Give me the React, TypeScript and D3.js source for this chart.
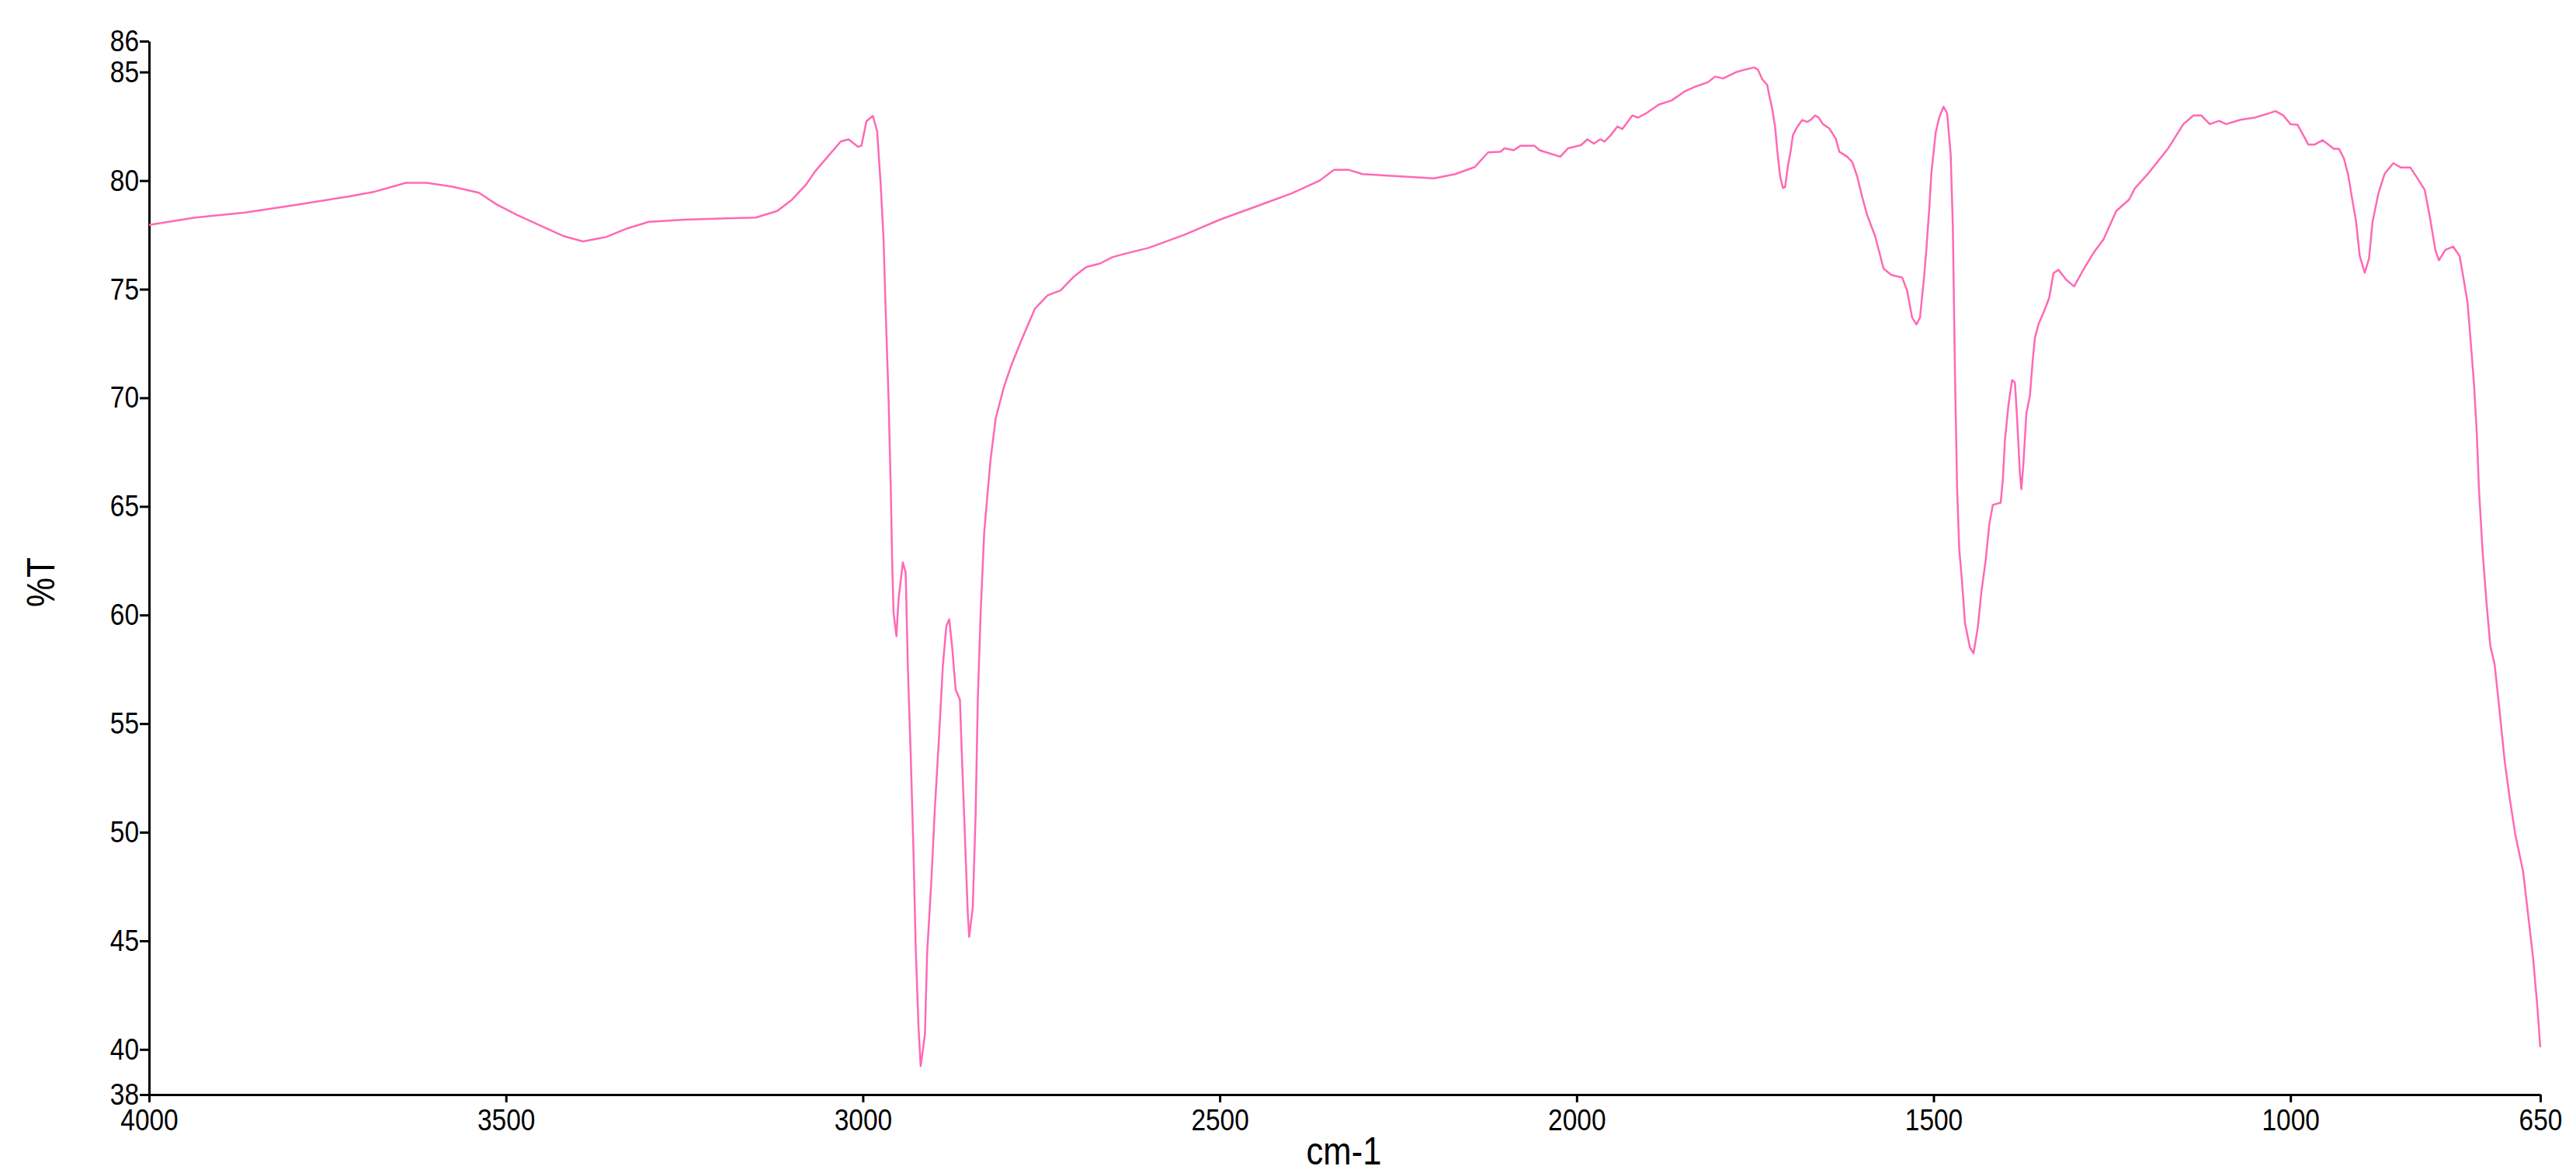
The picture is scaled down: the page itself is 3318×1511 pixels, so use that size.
import React, { useRef, useEffect } from "react";
import * as d3 from "d3";

// wavenumber (cm-1) and transmittance (%T)
const wavenumbers = [
  4000, 3937, 3865, 3793, 3720, 3684, 3640, 3611, 3575, 3538, 3513, 3484, 3450, 3420, 3392, 3360,
  3330, 3300, 3250, 3200, 3150, 3120, 3100, 3080, 3067, 3031, 3020, 3007, 3002, 2995, 2986, 2980,
  2975, 2971, 2968, 2964, 2961, 2959, 2957, 2953, 2950, 2944, 2940, 2937, 2933, 2929, 2926, 2922,
  2919, 2913, 2910, 2904, 2899, 2893, 2888, 2883, 2879, 2875, 2870, 2864, 2861, 2857, 2853, 2851,
  2846, 2842, 2839, 2835, 2830, 2826, 2821, 2814, 2803, 2792, 2777, 2759, 2741, 2723, 2705, 2687,
  2668, 2650, 2632, 2600, 2550, 2500, 2450, 2400, 2360, 2340, 2320, 2300, 2250, 2200, 2170, 2143,
  2124, 2107, 2101, 2088, 2079, 2059, 2052, 2033, 2023, 2012, 1994, 1985, 1976, 1967, 1961, 1952,
  1943, 1936, 1922, 1914, 1903, 1885, 1867, 1849, 1835, 1816, 1806, 1795, 1777, 1764, 1751, 1746,
  1740, 1733, 1730, 1726, 1722, 1719, 1715, 1711, 1708, 1704, 1700, 1697, 1691, 1684, 1677, 1672,
  1666, 1661, 1655, 1646, 1637, 1632, 1621, 1614, 1607, 1600, 1593, 1582, 1570, 1559, 1544, 1537,
  1530, 1524, 1519, 1513, 1510, 1506, 1503, 1497, 1492, 1486, 1481, 1476, 1473, 1470, 1467, 1464,
  1460, 1456, 1449, 1444, 1438, 1433, 1427, 1422, 1417, 1406, 1403, 1400, 1395, 1390, 1386, 1383,
  1379, 1377, 1374, 1370, 1365, 1361, 1358, 1353, 1345, 1338, 1332, 1325, 1314, 1303, 1291, 1276,
  1262, 1244, 1226, 1218, 1200, 1171, 1150, 1136, 1125, 1113, 1100, 1090, 1070, 1050, 1030, 1021,
  1010, 1000, 990, 975, 966, 955, 939, 932, 925, 919, 914, 908, 903, 896, 890, 885,
  877, 868, 856, 845, 832, 823, 812, 805, 797, 792, 783, 772, 763, 757, 752, 747,
  743, 739, 736, 731, 725, 720, 714, 707, 700, 693, 685, 674, 667, 660, 654, 650,
];

const transmittance = [
  77.96, 78.29, 78.53, 78.89, 79.27, 79.49, 79.9, 79.9, 79.72, 79.44, 78.9, 78.41, 77.9, 77.45, 77.2, 77.4,
  77.8, 78.1, 78.2, 78.25, 78.3, 78.6, 79.1, 79.8, 80.42, 81.8, 81.9, 81.56, 81.6, 82.73, 82.98, 82.27,
  79.8, 77.3, 73.97, 69.96, 65.96, 62.57, 60.1, 59.02, 60.72, 62.42, 61.95, 57.64, 53.6, 49.02, 44.72, 41.0,
  39.23, 40.7, 44.4, 47.8, 51.18, 54.56, 57.64, 59.5, 59.8, 58.56, 56.56, 56.1, 53.3, 49.8, 46.26, 45.18,
  46.56, 50.87, 56.1, 60.1, 63.8, 65.34, 67.18, 69.03, 70.43, 71.5, 72.72, 74.1, 74.72, 74.94, 75.56, 76.02,
  76.18, 76.48, 76.64, 76.9, 77.5, 78.2, 78.8, 79.4, 80.0, 80.5, 80.5, 80.3, 80.2, 80.1, 80.3, 80.62,
  81.3, 81.33, 81.49, 81.4, 81.6, 81.6, 81.4, 81.2, 81.1, 81.49, 81.63, 81.9, 81.7, 81.9, 81.8, 82.1,
  82.49, 82.37, 83.0, 82.9, 83.09, 83.5, 83.69, 84.1, 84.31, 84.53, 84.79, 84.7, 84.99, 85.11, 85.21, 85.1,
  84.67, 84.4, 83.9, 83.3, 82.47, 81.4, 80.2, 79.66, 79.7, 80.68, 81.4, 82.1, 82.47, 82.79, 82.7, 82.8,
  83.0, 82.9, 82.6, 82.4, 81.93, 81.33, 81.1, 80.86, 80.2, 79.25, 78.41, 77.46, 75.95, 75.65, 75.54, 74.93,
  73.69, 73.38, 73.69, 75.65, 76.87, 78.72, 80.37, 82.21, 82.92, 83.4, 83.1, 81.19, 77.9, 71.13, 65.79, 63.03,
  61.49, 59.63, 58.5, 58.24, 59.43, 61.07, 62.51, 64.15, 65.07, 65.17, 66.2, 68.05, 69.69, 70.82, 70.7, 69.07,
  66.5, 65.79, 67.03, 69.28, 70.1, 71.75, 72.77, 73.38, 74.0, 74.6, 75.74, 75.89, 75.43, 75.13, 75.85, 76.67,
  77.29, 78.6, 79.13, 79.64, 80.3, 81.5, 82.6, 83.0, 83.0, 82.6, 82.75, 82.6, 82.8, 82.9, 83.1, 83.2,
  83.0, 82.6, 82.57, 81.66, 81.66, 81.86, 81.46, 81.46, 81.01, 80.24, 79.24, 78.1, 76.54, 75.76, 76.4, 78.1,
  79.38, 80.32, 80.8, 80.6, 80.6, 80.15, 79.58, 78.38, 76.81, 76.33, 76.81, 76.96, 76.53, 75.39, 74.4, 72.39,
  70.69, 68.41, 65.85, 63.0, 60.43, 58.58, 57.73, 55.59, 53.3, 51.6, 49.89, 48.18, 46.19, 44.19, 41.91, 40.1,
];

const xTicks = [4000, 3500, 3000, 2500, 2000, 1500, 1000, 650];
const yTicks = [40, 45, 50, 55, 60, 65, 70, 75, 80, 85];
const xDomain = [4000, 650];
const yDomain = [37.92, 86.42];

const font = "'Liberation Sans', Arial, sans-serif";

const App = () => {
  const svgRef = useRef<SVGSVGElement>(null);

  useEffect(() => {
    const svg = d3.select(svgRef.current);
    svg.selectAll("*").remove();

    const width = 3318;
    const height = 1511;
    const margin = { top: 53, right: 46, bottom: 101, left: 192 };

    const x = d3.scaleLinear().domain(xDomain).range([margin.left, width - margin.right]);
    const y = d3.scaleLinear().domain(yDomain).range([height - margin.bottom, margin.top]);

    const points = wavenumbers.map((w, i) => [w, transmittance[i]] as [number, number]);

    // the labels in the original are narrow, so squeeze them a bit
    const squeeze = (sel: any) =>
      sel
        .attr("font-family", font)
        .attr("font-size", 39)
        .attr("fill", "#000")
        .attr("lengthAdjust", "spacingAndGlyphs")
        .attr("textLength", function (this: SVGTextElement) {
          return (this.textContent || "").length * 18.6;
        });

    // y axis: regular ticks plus the two rounded end ticks
    const yAll = [yDomain[0], ...yTicks, yDomain[1]];
    const yAxis = d3
      .axisLeft(y)
      .tickValues(yAll)
      .tickSize(12)
      .tickSizeOuter(0)
      .tickFormat((d) => String(Math.round(+d)));

    const gy = svg.append("g").attr("transform", `translate(${margin.left},0)`).call(yAxis);
    gy.select(".domain").attr("stroke", "#000").attr("stroke-width", 3);
    gy.selectAll(".tick line").attr("stroke", "#000").attr("stroke-width", 3);
    squeeze(gy.selectAll(".tick text").attr("x", -13));

    const xAxis = d3
      .axisBottom(x)
      .tickValues(xTicks)
      .tickSize(10)
      .tickSizeOuter(0)
      .tickFormat((d) => String(d));

    const gx = svg
      .append("g")
      .attr("transform", `translate(0,${height - margin.bottom})`)
      .call(xAxis);
    gx.select(".domain").attr("stroke", "#000").attr("stroke-width", 3);
    gx.selectAll(".tick line").attr("stroke", "#000").attr("stroke-width", 3);
    squeeze(gx.selectAll(".tick text").attr("y", 18));

    // spectrum
    const line = d3
      .line<[number, number]>()
      .x((d) => x(d[0]))
      .y((d) => y(d[1]));

    svg
      .append("path")
      .datum(points)
      .attr("fill", "none")
      .attr("stroke", "#ff69b4")
      .attr("stroke-width", 2.5)
      .attr("stroke-linejoin", "round")
      .attr("d", line);

    // axis titles
    svg
      .append("text")
      .attr("x", 1731)
      .attr("y", 1500)
      .attr("text-anchor", "middle")
      .attr("font-family", font)
      .attr("font-size", 50)
      .attr("fill", "#000")
      .attr("lengthAdjust", "spacingAndGlyphs")
      .attr("textLength", 97)
      .text("cm-1");

    svg
      .append("text")
      .attr("transform", "translate(70,750) rotate(-90)")
      .attr("text-anchor", "middle")
      .attr("font-family", font)
      .attr("font-size", 50)
      .attr("fill", "#000")
      .attr("lengthAdjust", "spacingAndGlyphs")
      .attr("textLength", 64)
      .text("%T");
  }, []);

  return (
    <div style={{ position: "absolute", left: 0, top: 0, background: "#fff" }}>
      <svg ref={svgRef} width={3318} height={1511} style={{ display: "block" }}></svg>
    </div>
  );
};

export default App;
